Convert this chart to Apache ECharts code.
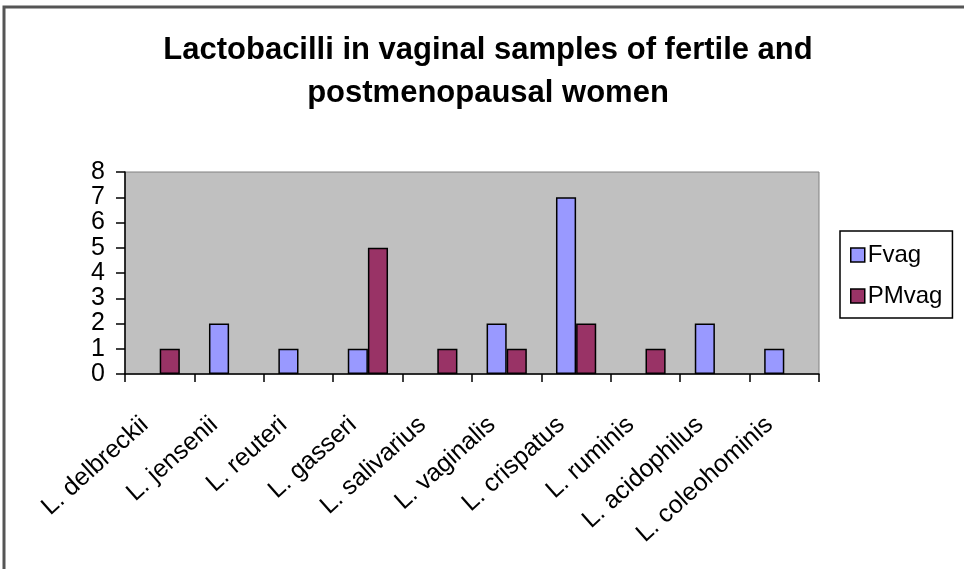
<!DOCTYPE html>
<html><head><meta charset="utf-8">
<script src="https://cdn.jsdelivr.net/npm/echarts@6/dist/echarts.min.js"></script>
<style>html,body{margin:0;padding:0;background:#fff}#c{width:964px;height:569px}</style>
</head><body><div id="c"></div>
<script>
const categories = ['L. delbreckii','L. jensenii','L. reuteri','L. gasseri','L. salivarius','L. vaginalis','L. crispatus','L. ruminis','L. acidophilus','L. coleohominis'];
const fvag = [0,2,1,1,0,2,7,0,2,1];
const pmvag = [1,0,0,5,1,1,2,1,0,0];
const yTicks = [0,1,2,3,4,5,6,7,8];

const noZero = arr => arr.map(v => v === 0 ? '-' : v);
const chart = echarts.init(document.getElementById('c'), null, {renderer:'canvas'});
const F = 'Arial, "Liberation Sans", sans-serif';
chart.setOption({
  animation:false,
  backgroundColor:'#fff',
  title:{
    text:'Lactobacilli in vaginal samples of fertile and\npostmenopausal women',
    left:483, top:24, textAlign:'center',
    textStyle:{fontFamily:F,fontSize:31,fontWeight:'bold',color:'#000',lineHeight:43}
  },
  legend:{
    orient:'vertical', left:840, top:231, width:117, height:83,
    padding:[12,10,10,10], itemGap:17,
    borderColor:'#000', borderWidth:1.5,
    itemWidth:14, itemHeight:14, icon:'rect',
    itemStyle:{borderColor:'#000',borderWidth:1.5},
    textStyle:{fontFamily:F,fontSize:24,color:'#000',padding:[0,0,0,-2]},
    data:['Fvag','PMvag']
  },
  grid:{left:125, top:172, width:694, height:202, show:true, backgroundColor:'#C0C0C0', borderColor:'#808080', borderWidth:1},
  xAxis:{
    type:'category', data:categories,
    axisLine:{lineStyle:{color:'#000',width:1.5}},
    axisTick:{show:true,length:8,lineStyle:{color:'#000',width:1.5}},
    axisLabel:{rotate:42,interval:0,margin:34,padding:[0,20,0,0],fontFamily:F,fontSize:25,color:'#000'}
  },
  yAxis:{
    type:'value', min:yTicks[0], max:yTicks[yTicks.length-1], interval:1,
    axisLine:{show:true,lineStyle:{color:'#000',width:1.5}},
    axisTick:{show:true,length:9,lineStyle:{color:'#000',width:1.5}},
    splitLine:{show:false},
    axisLabel:{fontFamily:F,fontSize:25,color:'#000',margin:20}
  },
  series:[
    {name:'Fvag',type:'bar',data:noZero(fvag),barGap:'0%',barCategoryGap:'42%',
     itemStyle:{color:'#9999FF',borderColor:'#000',borderWidth:1.5}},
    {name:'PMvag',type:'bar',data:noZero(pmvag),
     itemStyle:{color:'#993366',borderColor:'#000',borderWidth:1.5}}
  ],
  graphic:[
    {type:'rect',shape:{x:4,y:7,width:970,height:580},style:{fill:null,stroke:'#555',lineWidth:3},silent:true}
  ]
});
</script></body></html>
